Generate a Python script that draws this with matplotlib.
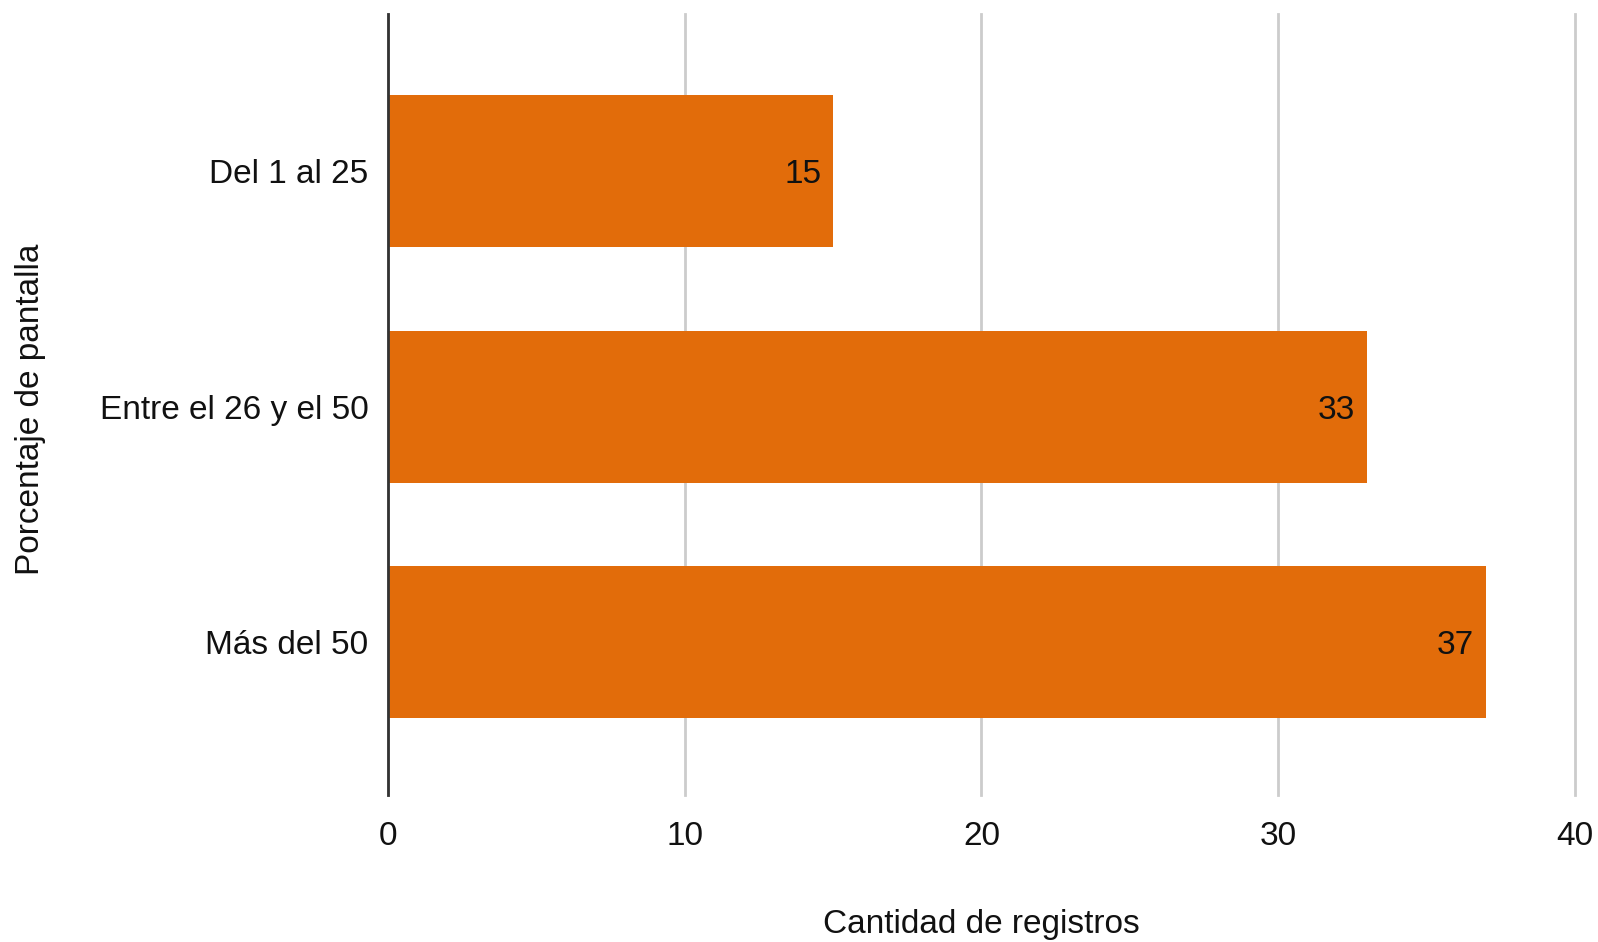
import matplotlib.pyplot as plt

# --- Data ---
categorias = ['Del 1 al 25', 'Entre el 26 y el 50', 'Más del 50']
registros = [15, 33, 37]
xticks = [0, 10, 20, 30, 40]

plt.rcParams['font.family'] = ['Liberation Sans', 'DejaVu Sans']
FS = 24

fig = plt.figure(figsize=(15.98, 9.42), dpi=100)
ax = fig.add_axes([0.2428, 0.156, 0.9856 - 0.2428, 0.985 - 0.156])

ypos = list(range(len(categorias)))
bars = ax.barh(ypos, registros, height=0.645, color='#E26C0A', zorder=2)

for b, v in zip(bars, registros):
    ax.text(b.get_width() - 0.4, b.get_y() + b.get_height() / 2, str(v),
            ha='right', va='center_baseline', fontsize=FS, color='#111111', zorder=3)

ax.set_xlim(0, 40)
ax.set_ylim(2.65, -0.667)
ax.set_xticks(xticks)
ax.set_yticks(ypos)
ax.set_yticklabels(categorias)
ax.tick_params(axis='both', length=0, labelsize=FS, colors='#111111')
ax.tick_params(axis='x', pad=19)
ax.tick_params(axis='y', pad=14)

ax.grid(axis='x', color='#CCCCCC', lw=2, zorder=0)
for gl in ax.get_xgridlines():
    gl.set_clip_on(False)
for s in ['top', 'right', 'bottom']:
    ax.spines[s].set_visible(False)
ax.spines['left'].set_color('#333333')
ax.spines['left'].set_linewidth(2)
ax.spines['left'].set_zorder(4)

fig.text(0.5 * (0.2428 + 0.9856), 1 - 925 / 942, 'Cantidad de registros',
         fontsize=FS, color='#111111', ha='center', va='center')
fig.text(31 / 1598, 0.5 * (0.156 + 0.985) - 0.005, 'Porcentaje de pantalla',
         fontsize=FS, color='#111111', ha='center', va='center', rotation=90)

plt.savefig('out.png', dpi=100)
